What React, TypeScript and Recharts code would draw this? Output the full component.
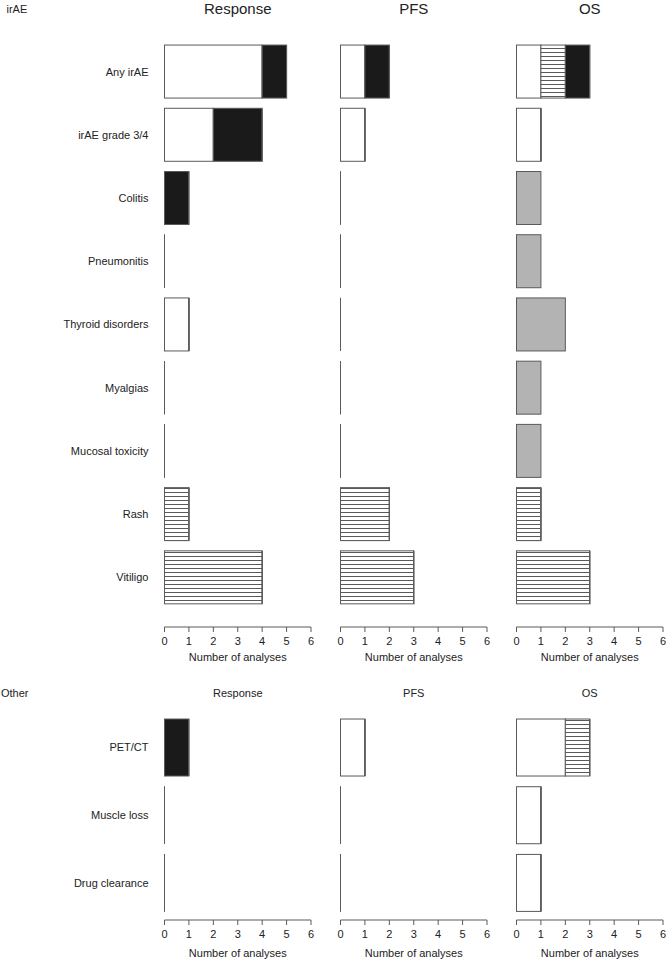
import { BarChart, Bar, XAxis, YAxis } from "recharts";

const irAECategories = [
  "Any irAE",
  "irAE grade 3/4",
  "Colitis",
  "Pneumonitis",
  "Thyroid disorders",
  "Myalgias",
  "Mucosal toxicity",
  "Rash",
  "Vitiligo",
];
const otherCategories = ["PET/CT", "Muscle loss", "Drug clearance"];
const panelTitles = ["Response", "PFS", "OS"];
const axisTicks = [0, 1, 2, 3, 4, 5, 6];

// irAE section: number of analyses per fill style
const irAEResponseOpen = [4, 2, 0, 0, 1, 0, 0, 0, 0];
const irAEResponseHatched = [0, 0, 0, 0, 0, 0, 0, 1, 4];
const irAEResponseSolid = [1, 2, 1, 0, 0, 0, 0, 0, 0];
const irAEResponseShaded = [0, 0, 0, 0, 0, 0, 0, 0, 0];

const irAEPfsOpen = [1, 1, 0, 0, 0, 0, 0, 0, 0];
const irAEPfsHatched = [0, 0, 0, 0, 0, 0, 0, 2, 3];
const irAEPfsSolid = [1, 0, 0, 0, 0, 0, 0, 0, 0];
const irAEPfsShaded = [0, 0, 0, 0, 0, 0, 0, 0, 0];

const irAEOsOpen = [1, 1, 0, 0, 0, 0, 0, 0, 0];
const irAEOsHatched = [1, 0, 0, 0, 0, 0, 0, 1, 3];
const irAEOsSolid = [1, 0, 0, 0, 0, 0, 0, 0, 0];
const irAEOsShaded = [0, 0, 1, 1, 2, 1, 1, 0, 0];

// Other section
const otherResponseOpen = [0, 0, 0];
const otherResponseHatched = [0, 0, 0];
const otherResponseSolid = [1, 0, 0];
const otherResponseShaded = [0, 0, 0];

const otherPfsOpen = [1, 0, 0];
const otherPfsHatched = [0, 0, 0];
const otherPfsSolid = [0, 0, 0];
const otherPfsShaded = [0, 0, 0];

const otherOsOpen = [2, 1, 1];
const otherOsHatched = [1, 0, 0];
const otherOsSolid = [0, 0, 0];
const otherOsShaded = [0, 0, 0];

const toRows = (cats: string[], open: number[], hatched: number[], solid: number[], shaded: number[]) =>
  cats.map((name, i) => ({ name, open: open[i], hatched: hatched[i], solid: solid[i], shaded: shaded[i] }));

const irAERows = [
  toRows(irAECategories, irAEResponseOpen, irAEResponseHatched, irAEResponseSolid, irAEResponseShaded),
  toRows(irAECategories, irAEPfsOpen, irAEPfsHatched, irAEPfsSolid, irAEPfsShaded),
  toRows(irAECategories, irAEOsOpen, irAEOsHatched, irAEOsSolid, irAEOsShaded),
];
const otherRows = [
  toRows(otherCategories, otherResponseOpen, otherResponseHatched, otherResponseSolid, otherResponseShaded),
  toRows(otherCategories, otherPfsOpen, otherPfsHatched, otherPfsSolid, otherPfsShaded),
  toRows(otherCategories, otherOsOpen, otherOsHatched, otherOsSolid, otherOsShaded),
];

const EDGE = "#5a5a5a";
const INK = "#222";
const FONT = "'Liberation Sans', Arial, Helvetica, sans-serif";
const seriesKeys = ["open", "hatched", "solid", "shaded"];

// plot area left edge of each panel, and common plot width
const plotLeft = [164.5, 340.5, 516.5];
const plotWidth = 146.5;

// R-style bar: zero-width bars still show as a thin vertical line
const BarShape = (props: any) => {
  const { x, y, width, height, fill } = props;
  if (x == null || y == null) return null;
  if (!width || Math.abs(width) < 0.01) {
    return <line x1={x} x2={x} y1={y} y2={y + height} stroke={EDGE} strokeWidth={1} />;
  }
  return <rect x={x} y={y} width={width} height={height} fill={fill} stroke={EDGE} strokeWidth={1} />;
};

interface PanelProps {
  id: string;
  rows: any[];
  index: number;
  top: number;
  height: number;
  marginTop: number;
  padBottom: number;
  labelOffset: number;
}

function Panel({ id, rows, index, top, height, marginTop, padBottom, labelOffset }: PanelProps) {
  const showLabels = index === 0;
  const chartLeft = showLabels ? 0 : Math.floor(plotLeft[index] - 10);
  const marginLeft = showLabels ? 0 : plotLeft[index] - chartLeft;
  const width = (showLabels ? plotLeft[0] : marginLeft) + plotWidth + 10;
  const fills: Record<string, string> = {
    open: "#ffffff",
    hatched: `url(#hatch-${id})`,
    solid: "#1a1a1a",
    shaded: "#b3b3b3",
  };
  return (
    <div style={{ position: "absolute", left: chartLeft, top }}>
      <BarChart
        width={width}
        height={height}
        data={rows}
        layout="vertical"
        margin={{ top: marginTop, right: 10, bottom: 0, left: marginLeft }}
        barCategoryGap="8%"
      >
        <defs>
          <pattern id={`hatch-${id}`} patternUnits="userSpaceOnUse" width={8} height={4}>
            <rect width={8} height={4} fill="#ffffff" />
            <line x1={0} x2={8} y1={0.5} y2={0.5} stroke={EDGE} strokeWidth={1} />
          </pattern>
        </defs>
        <XAxis
          type="number"
          domain={[0, 6]}
          ticks={axisTicks}
          interval={0}
          height={40}
          tickSize={5}
          tickMargin={5}
          axisLine={{ stroke: EDGE }}
          tickLine={{ stroke: EDGE }}
          tick={{ fill: INK, fontSize: 11 }}
          label={{ value: "Number of analyses", position: "insideBottom", offset: labelOffset, fill: INK, fontSize: 11 }}
        />
        <YAxis
          type="category"
          dataKey="name"
          hide={!showLabels}
          width={showLabels ? plotLeft[0] : 0}
          axisLine={false}
          tickLine={false}
          tickMargin={10}
          interval={0}
          padding={{ top: 0, bottom: padBottom }}
          tick={{ fill: INK, fontSize: 11 }}
        />
        {seriesKeys.map((k) => (
          <Bar key={k} dataKey={k} stackId="a" fill={fills[k]} shape={BarShape} isAnimationActive={false} />
        ))}
      </BarChart>
    </div>
  );
}

export default function App() {
  const centers = plotLeft.map((l) => l + plotWidth / 2);
  return (
    <div
      style={{
        position: "absolute",
        left: 0,
        top: 0,
        width: 666,
        height: 960,
        overflow: "hidden",
        background: "#fff",
        fontFamily: FONT,
      }}
    >
      {irAERows.map((rows, i) => (
        <Panel key={`irae-${i}`} id={`irae-${i}`} rows={rows} index={i} top={0} height={667} marginTop={40} padBottom={18} labelOffset={6} />
      ))}
      {otherRows.map((rows, i) => (
        <Panel key={`other-${i}`} id={`other-${i}`} rows={rows} index={i} top={680} height={280} marginTop={33.6} padBottom={3.3} labelOffset={3} />
      ))}
      <svg width={666} height={960} style={{ position: "absolute", left: 0, top: 0, pointerEvents: "none" }}>
        <text x={6.5} y={13} fontSize={11} fill={INK}>irAE</text>
        <text x={1} y={696.5} fontSize={11} fill={INK}>Other</text>
        {panelTitles.map((t, i) => (
          <text key={`t1-${t}`} x={centers[i]} y={14} fontSize={15} fill={INK} textAnchor="middle">{t}</text>
        ))}
        {panelTitles.map((t, i) => (
          <text key={`t2-${t}`} x={centers[i]} y={697} fontSize={11} fill={INK} textAnchor="middle">{t}</text>
        ))}
      </svg>
    </div>
  );
}
